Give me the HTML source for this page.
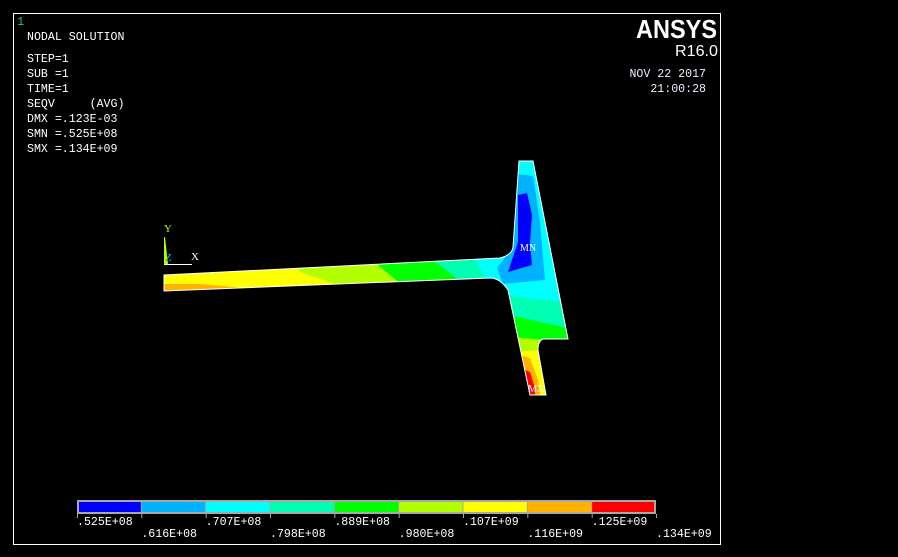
<!DOCTYPE html>
<html><head><meta charset="utf-8"><style>
html,body{margin:0;padding:0;background:#000;}
svg{display:block;}
text{font-family:"Liberation Mono",monospace;}
</style></head><body>
<svg id="plot" width="898" height="557" viewBox="0 0 898 557" xmlns="http://www.w3.org/2000/svg">
<rect x="0" y="0" width="898" height="557" fill="#000"/>
<rect x="13.5" y="13.5" width="707" height="531" fill="none" stroke="#fff" stroke-width="1"/>
<text x="17" y="25" fill="#20c0a0" font-size="12">1</text>
<g fill="#fff" font-size="11.6">
<text x="27" y="40">NODAL SOLUTION</text>
<text x="27" y="62">STEP=1</text>
<text x="27" y="77">SUB =1</text>
<text x="27" y="92">TIME=1</text>
<text x="27" y="107" xml:space="preserve">SEQV     (AVG)</text>
<text x="27" y="122">DMX =.123E-03</text>
<text x="27" y="137">SMN =.525E+08</text>
<text x="27" y="152">SMX =.134E+09</text>
</g>
<text x="636" y="38" fill="#fff" font-size="26" font-weight="bold" textLength="81" lengthAdjust="spacingAndGlyphs" style="font-family:'Liberation Sans',sans-serif">ANSYS</text>
<text x="675" y="56" fill="#fff" font-size="16" textLength="43" lengthAdjust="spacingAndGlyphs" style="font-family:'Liberation Sans',sans-serif">R16.0</text>
<text x="706" y="77" fill="#e8f0ff" font-size="11.6" text-anchor="end">NOV 22 2017</text>
<text x="706" y="92" fill="#e8f0ff" font-size="11.6" text-anchor="end">21:00:28</text>

<defs><clipPath id="shape"><path d="M164,275 L500,258 Q512,255 513,247 L519,161 L533,161 L568,339 L543,339 Q538,341 538,350 L546,395 L530,395 L508,290 Q500,278 490,278 L164,291 Z"/></clipPath></defs>
<g clip-path="url(#shape)">
<rect x="160" y="150" width="420" height="250" fill="#00ffff"/>
<polygon points="160,250 320,250 440,300 160,300" fill="#ffff00"/>
<polygon points="160,284 200,284 280,291 160,295" fill="#ffb200"/>
<polygon points="290,250 400,250 470,300 380,300 300,272" fill="#b2ff00"/>
<polygon points="360,250 420,250 485,300 420,300" fill="#00ff00"/>
<polygon points="420,250 470,250 497,300 485,300" fill="#00ffb2"/>
<polygon points="510,160 540,160 533,176 519,174" fill="#00ffff"/>
<polygon points="516,174 533,176 540,222 545,280 503,284 497,268 512,248" fill="#00b2ff"/>
<polygon points="518,195 527,193 532,215 530,242 532,265 508,272 518,242" fill="#0000ff"/>
<polygon points="500,295 562,302 575,310 575,400 500,400" fill="#00ffb2"/>
<polygon points="500,313 567,328 575,335 575,400 500,400" fill="#00ff00"/>
<polygon points="500,336 545,340 575,340 575,400 500,400" fill="#b2ff00"/>
<polygon points="500,353 540,350 575,360 575,400 500,400" fill="#ffff00"/>
<polygon points="520,355 530,358 538,380 541,400 520,400" fill="#ffb200"/>
<polygon points="520,368 530,372 534,385 536,400 520,400" fill="#ff0000"/>
</g>
<path d="M164,275 L500,258 Q512,255 513,247 L519,161 L533,161 L568,339 L543,339 Q538,341 538,350 L546,395 L530,395 L508,290 Q500,278 490,278 L164,291 Z" fill="none" stroke="#fff" stroke-width="1"/>
<text x="520" y="251" fill="#fff" font-size="10" style="font-family:'Liberation Serif',serif">MN</text>
<text x="528" y="392" fill="#fff" font-size="10" style="font-family:'Liberation Serif',serif">MX</text>

<g>
<polygon points="164,237 165,237 168,264 164,264" fill="#b2ff00"/>
<line x1="164" y1="264.5" x2="192" y2="264.5" stroke="#fff" stroke-width="1"/>
<text x="164" y="232" fill="#b2ff00" font-size="11" style="font-family:'Liberation Serif',serif">Y</text>
<text x="165" y="261" fill="#00b2ff" font-size="11" style="font-family:'Liberation Serif',serif">Z</text>
<text x="191" y="260" fill="#fff" font-size="11" style="font-family:'Liberation Serif',serif">X</text>
</g>

<g id="legend"></g>
</svg>
<script>
const legendColors = ["#0000ff","#00b2ff","#00ffff","#00ffb2","#00ff00","#b2ff00","#ffff00","#ffb200","#ff0000"];
const legendLabels = [".525E+08",".616E+08",".707E+08",".798E+08",".889E+08",".980E+08",".107E+09",".116E+09",".125E+09",".134E+09"];
(function(){
  const NS="http://www.w3.org/2000/svg";
  const g=document.getElementById('legend');
  const x0=77, x1=656, n=legendColors.length, w=(x1-x0)/n;
  const bx=x=>x0+x*w;
  const frame=document.createElementNS(NS,'rect');
  frame.setAttribute('x',x0);frame.setAttribute('y',500);frame.setAttribute('width',x1-x0);frame.setAttribute('height',14);frame.setAttribute('fill','#a8a8a8');
  
  
  g.appendChild(frame);
  legendColors.forEach((c,i)=>{
    const r=document.createElementNS(NS,'rect');
    r.setAttribute('x',bx(i)+(i===0?2:0.5));r.setAttribute('y',502);
    r.setAttribute('width',w-(i===0?2.5:1)-(i===n-1?1.5:0));r.setAttribute('height',10);r.setAttribute('fill',c);
    
    
    g.appendChild(r);
  });
  legendLabels.forEach((l,i)=>{
    const tk=document.createElementNS(NS,'line');
    tk.setAttribute('x1',bx(i)+0.5);tk.setAttribute('x2',bx(i)+0.5);tk.setAttribute('y1',514);tk.setAttribute('y2',518);tk.setAttribute('stroke','#a8a8a8');
    
    
    g.appendChild(tk);
    const t=document.createElementNS(NS,'text');
    t.setAttribute('x',bx(i));t.setAttribute('y',i%2===0?525:537);
    t.setAttribute('fill','#fff');t.setAttribute('font-size','11.6');
    t.textContent=l;
    
    
    g.appendChild(t);
  });
})();
</script>
</body></html>
